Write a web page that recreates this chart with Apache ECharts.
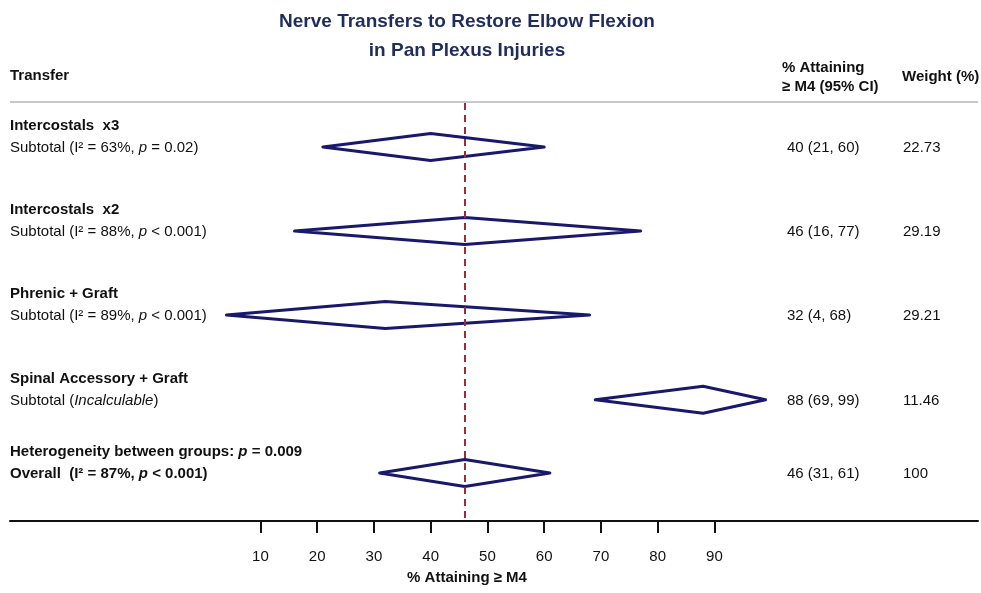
<!DOCTYPE html>
<html>
<head>
<meta charset="utf-8">
<script src="https://cdn.jsdelivr.net/npm/echarts@6/dist/echarts.min.js"></script>
<style>html,body{margin:0;padding:0;background:#fff}#c{width:981px;height:593px}</style>
</head>
<body>
<div id="c"></div>
<script>
// ---- data ----
const groupNames = ['Intercostals  x3', 'Intercostals  x2', 'Phrenic + Graft', 'Spinal Accessory + Graft', 'Heterogeneity between groups: {bi|p} = 0.009'];
const subLabels = ['Subtotal (I\u00B2 = 63%, {i|p} = 0.02)', 'Subtotal (I\u00B2 = 88%, {i|p} < 0.001)', 'Subtotal (I\u00B2 = 89%, {i|p} < 0.001)', 'Subtotal ({i|Incalculable})', 'Overall  (I\u00B2 = 87%, {bi|p} < 0.001)'];
const estimates = [40, 46, 32, 88, 46];
const lowerCI = [21, 16, 4, 69, 31];
const upperCI = [60, 77, 68, 99, 61];
const weights = ['22.73', '29.19', '29.21', '11.46', '100'];
const tickValues = [10, 20, 30, 40, 50, 60, 70, 80, 90];
const overallEstimate = 46;

// ---- layout ----
const rowPos = [0, 1, 2, 3.01, 3.88];
const navy = '#18186c';
const font = 'Liberation Sans, Arial, sans-serif';
const fs = 15;

const data = estimates.map((e, i) => [e, lowerCI[i], upperCI[i], rowPos[i], i]);

const chart = echarts.init(document.getElementById('c'), null, { renderer: 'canvas' });

function renderItem(params, api) {
  const i = api.value(4);
  const e = api.value(0), lo = api.value(1), hi = api.value(2), r = api.value(3);
  const pc = api.coord([e, r]);
  const pl = api.coord([lo, r]);
  const ph = api.coord([hi, r]);
  const y = pc[1];
  const h = 13.5;
  const last = i === estimates.length - 1;
  const rich = {
    i: { fontStyle: 'italic', fontFamily: font, fontSize: fs, fill: '#111' },
    bi: { fontStyle: 'italic', fontWeight: 'bold', fontFamily: font, fontSize: fs, fill: '#111' }
  };
  return {
    type: 'group',
    children: [
      {
        type: 'polygon',
        shape: { points: [[pl[0], y], [pc[0], y - h], [ph[0], y], [pc[0], y + h]] },
        style: { fill: 'rgba(0,0,0,0)', stroke: navy, lineWidth: 3, lineJoin: 'round' }
      },
      {
        type: 'text', x: 10, y: y - 21,
        style: { text: groupNames[i], fontFamily: font, fontSize: fs, fontWeight: 'bold', fill: '#111', verticalAlign: 'middle', rich: rich }
      },
      {
        type: 'text', x: 10, y: y + 1,
        style: { text: subLabels[i], fontFamily: font, fontSize: fs, fontWeight: last ? 'bold' : 'normal', fill: '#111', verticalAlign: 'middle', rich: rich }
      },
      {
        type: 'text', x: 787, y: y + 1,
        style: { text: estimates[i] + ' (' + lowerCI[i] + ', ' + upperCI[i] + ')', fontFamily: font, fontSize: fs, fill: '#111', verticalAlign: 'middle' }
      },
      {
        type: 'text', x: 903, y: y + 1,
        style: { text: weights[i], fontFamily: font, fontSize: fs, fill: '#111', verticalAlign: 'middle' }
      }
    ]
  };
}

const pxPerUnit = 5.675, zeroPx = 203.7, leftPx = 10, rightPx = 978;
const option = {
  animation: false,
  backgroundColor: '#fff',
  title: {
    text: 'Nerve Transfers to Restore Elbow Flexion\nin Pan Plexus Injuries',
    left: 462, top: 2, textAlign: 'center',
    textStyle: { fontFamily: font, fontSize: 19, fontWeight: 'bold', color: '#1f2d5e', lineHeight: 29 }
  },
  grid: { left: leftPx, right: 981 - rightPx, top: 103, bottom: 72 },
  xAxis: {
    type: 'value',
    min: (leftPx - zeroPx) / pxPerUnit,
    max: (rightPx - zeroPx) / pxPerUnit,
    axisLine: { show: true, onZero: false, lineStyle: { color: '#111', width: 2 } },
    axisTick: { show: true, length: 12, customValues: tickValues, lineStyle: { color: '#111', width: 2 } },
    axisLabel: { customValues: tickValues, margin: 28, fontFamily: font, fontSize: fs, color: '#111' },
    splitLine: { show: false }
  },
  yAxis: {
    type: 'value', inverse: true, show: false,
    min: -44 / 84, max: 374 / 84
  },
  graphic: [
    { type: 'text', x: 10, y: 76, style: { text: 'Transfer', fontFamily: font, fontSize: fs, fontWeight: 'bold', fill: '#111', verticalAlign: 'middle' } },
    { type: 'text', x: 782, y: 68, style: { text: '% Attaining', fontFamily: font, fontSize: fs, fontWeight: 'bold', fill: '#111', verticalAlign: 'middle' } },
    { type: 'text', x: 782, y: 87, style: { text: '\u2265 M4 (95% CI)', fontFamily: font, fontSize: fs, fontWeight: 'bold', fill: '#111', verticalAlign: 'middle' } },
    { type: 'text', x: 902, y: 77, style: { text: 'Weight (%)', fontFamily: font, fontSize: fs, fontWeight: 'bold', fill: '#111', verticalAlign: 'middle' } },
    { type: 'line', shape: { x1: 10, y1: 102, x2: 978, y2: 102 }, style: { stroke: '#c8c8c8', lineWidth: 2 } },
    { type: 'text', x: 467, y: 578, style: { text: '% Attaining \u2265 M4', fontFamily: font, fontSize: fs, fontWeight: 'bold', fill: '#111', align: 'center', verticalAlign: 'middle' } }
  ],
  series: [{
    type: 'custom',
    renderItem: renderItem,
    data: data,
    encode: { x: [0, 1, 2], y: 3 },
    clip: false,
    markLine: {
      silent: true, symbol: 'none', label: { show: false },
      lineStyle: { color: '#9e2a35', type: [7, 5], width: 2 },
      data: [{ xAxis: overallEstimate }]
    }
  }]
};
chart.setOption(option);
</script>
</body>
</html>
